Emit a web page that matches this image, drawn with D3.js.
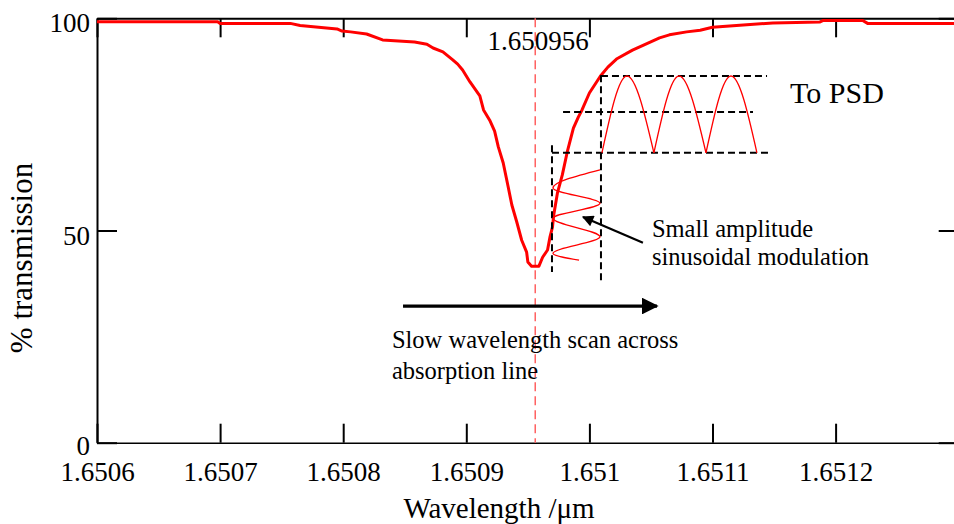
<!DOCTYPE html>
<html>
<head>
<meta charset="utf-8">
<script src="https://cdn.jsdelivr.net/npm/d3@7"></script>
<style>
  html, body { margin: 0; padding: 0; background: #fff; }
  svg { display: block; }
  text { font-family: "Liberation Serif", "Times New Roman", serif; fill: #000; }
</style>
</head>
<body>
<svg id="chart" width="954" height="524"></svg>
<script>
// ---------- DATA ----------
// Measured transmission spectrum (wavelength in µm, % transmission)
const wavelength = [
  1.650600, 1.650698, 1.650700, 1.650757, 1.650765, 1.650780, 1.650795, 1.650799,
  1.650806, 1.650819, 1.650832, 1.650858, 1.650868, 1.650873, 1.650881, 1.650889,
  1.650893, 1.650897, 1.650903, 1.650911, 1.650914, 1.650919, 1.650923, 1.650926,
  1.650930, 1.650934, 1.650937, 1.650941, 1.650945, 1.650949, 1.650950, 1.650953,
  1.650959, 1.650962, 1.650966, 1.650968, 1.650970, 1.650971, 1.650974, 1.650978,
  1.650982, 1.650987, 1.650991, 1.650994, 1.651000, 1.651009, 1.651015, 1.651022,
  1.651035, 1.651044, 1.651057, 1.651065, 1.651079, 1.651090, 1.651100, 1.651125,
  1.651149, 1.651187, 1.651190, 1.651222, 1.651226, 1.651300
];
const transmission = [
  99.2, 99.2, 98.8, 98.8, 98.3, 97.9, 97.5, 97.0,
  96.8, 96.3, 94.9, 94.4, 93.9, 93.0, 92.1, 90.2,
  89.2, 87.8, 85.0, 81.7, 78.4, 76.0, 73.4, 69.7,
  65.9, 60.3, 56.0, 52.0, 47.7, 44.9, 42.6, 41.6,
  41.6, 43.7, 45.4, 48.5, 50.8, 53.6, 58.8, 63.1,
  68.5, 74.1, 76.7, 78.4, 82.4, 86.4, 88.5, 90.4,
  92.5, 93.7, 95.4, 96.1, 96.8, 97.2, 97.9, 98.4,
  98.9, 99.1, 99.5, 99.5, 98.8, 98.8
];
const lineCentre = 1.650956;
const lineCentreLabel = "1.650956";

// Axis ticks
const xTicks = [1.6506, 1.6507, 1.6508, 1.6509, 1.6510, 1.6511, 1.6512];
const xTickLabels = ["1.6506", "1.6507", "1.6508", "1.6509", "1.651", "1.6511", "1.6512"];
const yTicks = [0, 50, 100];
const yTickLabels = ["0", "50", "100"];

// Small amplitude sinusoidal modulation (turning points)
const modWavelength = [1.6510086, 1.6509704, 1.6510086, 1.6509704, 1.6510086, 1.6509704, 1.6509916];
const modTransmission = [64.3, 60.0, 56.4, 52.9, 48.5, 44.6, 43.0];

// Detector signal to PSD (rectified: cusps and peaks)
const psdCuspWavelength = [1.6510102, 1.6510524, 1.6510947, 1.6511361];
const psdPeakWavelength = [1.6510305, 1.6510728, 1.6511150];
const psdLow = 68.3, psdHigh = 86.4;

// Dashed guide lines [λ1, T1, λ2, T2]
const guideLines = [
  [1.6509696, 70.1, 1.6509696, 40.2],
  [1.6510094, 86.6, 1.6510094, 38.3],
  [1.6510094, 86.4, 1.6511443, 86.4],
  [1.6509786, 77.9, 1.6511329, 77.9],
  [1.6509696, 68.3, 1.6511467, 68.3]
];

// Annotation arrows [λ1, T1, λ2, T2] (tail -> head)
const arrows = [
  [1.6508486, 32.2, 1.6510549, 32.2],
  [1.6510435, 47.1, 1.6509948, 53.2]
];

// ---------- CHART ----------
const svg = d3.select("#chart");
svg.append("rect").attr("width", 954).attr("height", 524).attr("fill", "#fff");

const xScale = d3.scaleLinear().domain([1.6506, 1.6513]).range([97, 958.7]);
const yScale = d3.scaleLinear().domain([0, 100]).range([442.7, 18.3]);

const tickFont = 27;

// defs for arrowhead
svg.append("defs").append("marker")
  .attr("id", "ah").attr("viewBox", "0 0 10 10")
  .attr("refX", 9).attr("refY", 5)
  .attr("markerWidth", 6).attr("markerHeight", 5.2)
  .attr("markerUnits", "strokeWidth")
  .attr("orient", "auto")
  .append("path").attr("d", "M0,0 L10,5 L0,10 Z").attr("fill", "#000");

// Axes
const gBottom = svg.append("g").attr("transform", `translate(0,${yScale(0)})`)
  .call(d3.axisBottom(xScale).tickValues(xTicks).tickFormat((d, i) => xTickLabels[i])
    .tickSizeInner(-19).tickSizeOuter(0).tickPadding(19));
const gTop = svg.append("g").attr("transform", `translate(0,${yScale(100)})`)
  .call(d3.axisTop(xScale).tickValues(xTicks).tickFormat("")
    .tickSizeInner(-19).tickSizeOuter(0));
const gLeft = svg.append("g").attr("transform", `translate(${xScale(1.6506)},0)`)
  .call(d3.axisLeft(yScale).tickValues(yTicks).tickFormat((d, i) => yTickLabels[i])
    .tickSizeInner(-20).tickSizeOuter(0).tickPadding(7));
const gRight = svg.append("g").attr("transform", `translate(${xScale(1.6513)},0)`)
  .call(d3.axisRight(yScale).tickValues(yTicks).tickFormat("")
    .tickSizeInner(-20).tickSizeOuter(0));

[gBottom, gTop, gLeft, gRight].forEach(g => {
  g.select(".domain").attr("stroke", "#000").attr("stroke-width", 2);
  g.selectAll(".tick line").attr("stroke", "#000").attr("stroke-width", 2);
  g.selectAll("text").attr("font-size", tickFont)
    .attr("font-family", '"Liberation Serif", "Times New Roman", serif').attr("fill", "#000");
});
gBottom.select(".domain").attr("stroke-width", 1.6);
gLeft.selectAll(".tick text").attr("dy", (d) => d === 0 ? "0.42em" : "0.5em");

// Axis titles
svg.append("text").attr("x", 499).attr("y", 518).attr("text-anchor", "middle")
  .attr("font-size", 29).text("Wavelength /\u03BCm");
svg.append("text").attr("transform", "translate(32,258) rotate(-90)")
  .attr("text-anchor", "middle").attr("font-size", 31).text("% transmission");

// Line centre dashed marker
svg.append("line")
  .attr("x1", xScale(lineCentre)).attr("x2", xScale(lineCentre))
  .attr("y1", yScale(100)).attr("y2", yScale(0))
  .attr("stroke", "#ff6262").attr("stroke-width", 1.5).attr("stroke-dasharray", "9,5");
svg.append("text").attr("x", xScale(lineCentre) + 3).attr("y", 50).attr("text-anchor", "middle")
  .attr("font-size", 27).text(lineCentreLabel);

// Main spectrum
const spec = wavelength.map((w, i) => [w, transmission[i]]);
svg.append("path").datum(spec)
  .attr("d", d3.line().x(d => xScale(d[0])).y(d => yScale(d[1])))
  .attr("fill", "none").attr("stroke", "#ff0000").attr("stroke-width", 3)
  .attr("stroke-linejoin", "round");

// Dashed guides
svg.selectAll(".guide").data(guideLines).join("line").attr("class", "guide")
  .attr("x1", d => xScale(d[0])).attr("y1", d => yScale(d[1]))
  .attr("x2", d => xScale(d[2])).attr("y2", d => yScale(d[3]))
  .attr("stroke", "#000").attr("stroke-width", 2).attr("stroke-dasharray", "7,4");

// Modulation sinusoid
const mod = modWavelength.map((w, i) => [w, modTransmission[i]]);
svg.append("path").datum(mod)
  .attr("d", d3.line().curve(d3.curveMonotoneY).x(d => xScale(d[0])).y(d => yScale(d[1])))
  .attr("fill", "none").attr("stroke", "#ff0000").attr("stroke-width", 1.3);

// PSD signal arches
const arches = psdPeakWavelength.map((p, i) => [
  [psdCuspWavelength[i], psdLow], [p, psdHigh], [psdCuspWavelength[i + 1], psdLow]
]);
svg.selectAll(".arch").data(arches).join("path").attr("class", "arch")
  .attr("d", d3.line().curve(d3.curveMonotoneX).x(d => xScale(d[0])).y(d => yScale(d[1])))
  .attr("fill", "none").attr("stroke", "#ff0000").attr("stroke-width", 1.3);

// Arrows
svg.selectAll(".arrow").data(arrows).join("line").attr("class", "arrow")
  .attr("x1", d => xScale(d[0])).attr("y1", d => yScale(d[1]))
  .attr("x2", d => xScale(d[2])).attr("y2", d => yScale(d[3]))
  .attr("stroke", "#000").attr("stroke-width", (d, i) => i === 0 ? 3.2 : 2.2)
  .attr("marker-end", "url(#ah)");

// Annotations
svg.append("text").attr("x", xScale(1.6511630)).attr("y", yScale(80.0))
  .attr("font-size", 30).text("To PSD");
const ann1 = svg.append("text").attr("font-size", 24.5);
ann1.append("tspan").attr("x", xScale(1.6510508)).attr("y", yScale(48.5)).text("Small amplitude");
ann1.append("tspan").attr("x", xScale(1.6510508)).attr("y", yScale(41.9)).text("sinusoidal modulation");
const ann2 = svg.append("text").attr("font-size", 24.5);
ann2.append("tspan").attr("x", xScale(1.6508396)).attr("y", yScale(22.3)).text("Slow wavelength scan across");
ann2.append("tspan").attr("x", xScale(1.6508396)).attr("y", yScale(15.0)).text("absorption line");
</script>
</body>
</html>
